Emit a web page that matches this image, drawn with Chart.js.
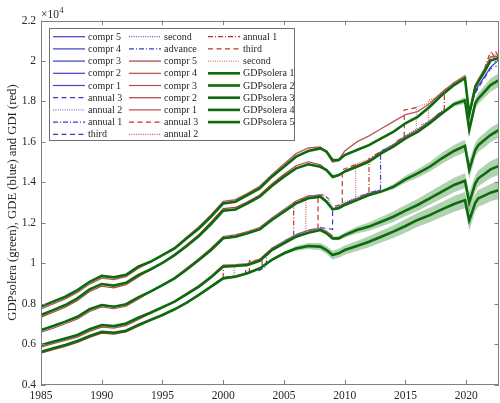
<!DOCTYPE html>
<html>
<head>
<meta charset="utf-8">
<script src="https://cdn.jsdelivr.net/npm/chart.js@4/dist/chart.umd.min.js"></script>
<style>
  html, body { margin: 0; padding: 0; background: #fff; }
  canvas { display: block; }
</style>
</head>
<body>
<canvas id="c" width="500" height="403"></canvas>
<script>
// values in units of 10^4
var years = [1985,1986,1987,1988,1989,1990,1991,1992,1993,1994,1995,1996,1997,1998,1999,2000,2001,2002,2003,2004,
  2005,2006,2007,2008,2008.5,2009,2009.5,2010,2011,2012,2013,2014,2015,2016,2017,2018,2019,2019.9,2020.25,2020.75,
  2021,2021.5,2022,2022.7];

var solera1 = [.785,.810,.834,.867,.908,.937,.930,.943,.983,1.007,1.040,1.073,1.123,1.172,1.230,1.296,1.304,1.337,1.370,1.428,
  1.477,1.527,1.555,1.568,1.552,1.510,1.510,1.535,1.560,1.584,1.617,1.650,1.692,1.724,1.774,1.832,1.881,1.915,1.735,1.873,
  1.898,1.947,2.002,2.016];
var solera2 = [.744,.768,.793,.826,.871,.897,.889,.903,.941,.969,1.002,1.040,1.085,1.134,1.194,1.260,1.266,1.296,1.329,1.382,
  1.428,1.469,1.489,1.477,1.461,1.428,1.436,1.453,1.477,1.502,1.543,1.576,1.617,1.650,1.692,1.741,1.787,1.805,1.660,1.791,
  1.815,1.848,1.881,1.906];
var solera3 = [.669,.689,.711,.735,.772,.793,.785,.797,.831,.859,.892,.925,.969,1.016,1.065,1.123,1.131,1.148,1.167,1.214,
  1.255,1.296,1.321,1.329,1.304,1.266,1.272,1.288,1.312,1.337,1.354,1.378,1.415,1.444,1.477,1.519,1.555,1.580,1.462,1.560,
  1.584,1.609,1.634,1.659];
var solera4 = [.595,.612,.628,.645,.673,.694,.689,.702,.730,.755,.782,.810,.847,.884,.930,.983,.986,.991,1.012,1.065,
  1.098,1.131,1.151,1.164,1.148,1.123,1.123,1.139,1.164,1.181,1.205,1.230,1.260,1.288,1.321,1.354,1.387,1.408,1.300,1.395,
  1.420,1.441,1.464,1.481];
var solera5 = [.562,.579,.595,.615,.640,.661,.656,.666,.694,.719,.744,.772,.805,.843,.884,.925,.933,.950,.974,1.016,
  1.049,1.073,1.085,1.082,1.065,1.040,1.049,1.065,1.085,1.106,1.131,1.156,1.184,1.214,1.238,1.266,1.293,1.312,1.212,1.299,
  1.321,1.334,1.349,1.362];

// half widths of the shaded bands, starting at the given year
var band2From = 2018, band2 = [.006,.012,.016,.035,.024,.027,.030,.033,.035];
var band3From = 2013, band3 = [.006,.012,.017,.021,.024,.027,.030,.031,.045,.034,.034,.035,.036,.037];
var band4From = 2008.5, band4 = [.004,.008,.010,.013,.017,.020,.023,.026,.028,.030,.032,.034,.036,.037,.050,.040,.040,.041,.042,.043];
var band5From = 2004, band5 = [.004,.008,.012,.015,.018,.020,.022,.022,.023,.025,.027,.029,.031,.033,.034,.036,.037,.039,.040,.052,
  .042,.042,.042,.043,.044];

// GDI comprehensive vintages (from 1985 on)
var gdi5 = [.774,.799,.823,.856,.897,.926,.919,.934,.974,1.005,1.040,1.078,1.130,1.180,1.240,1.306,1.314,1.345,1.380,1.438,
  1.490,1.542,1.570,1.575,1.548,1.500,1.510,1.555,1.600,1.630,1.665,1.700,1.735,1.750,1.790,1.845,1.893,1.925,1.735,1.880,
  1.910,1.960,2.020,2.025];
var gdi4 = [.733,.757,.782,.815,.860,.886,.878,.893,.932,.967,1.002,1.045,1.092,1.142,1.204,1.270,1.276,1.304,1.338,1.392,
  1.440,1.482,1.502,1.487,1.462,1.422,1.432,1.458,1.484,1.510,1.552,1.586,1.628,1.660,1.702,1.750];
var gdi3 = [.658,.678,.700,.724,.761,.783,.775,.787,.822,.857,.892,.930,.976,1.024,1.074,1.132,1.140,1.157,1.177,1.224,
  1.266,1.308,1.333,1.336,1.308,1.268,1.278,1.296,1.320,1.345,1.362];
var gdi2 = [.585,.602,.618,.635,.663,.684,.679,.692,.721,.752,.781,.812,.851,.889,.936,.990,.993,.998,1.020,1.073,
  1.107,1.140,1.162,1.172,1.158,1.135];
var gdi1 = [.555,.572,.588,.608,.633,.654,.649,.660,.688,.717,.743,.772,.806,.845,.887,.929,.937,.954,.978];

// GDE comprehensive vintages end (last year), compr 5 departs after the 2020 dip
var gde4End = 2018, gde3End = 2013, gde2End = 2009, gde1End = 2003;
var gde5Tail = [1.850,1.878,1.922,1.968,2.008];

// short vintages: [year, value] with null between pieces
var gdeAnnual3 = [[2008.0,1.176],[2008.5,1.172],[2009.0,1.168],[2009.0,1.262],[2009.5,1.278]];
var gdeAnnual2 = [[2006.8,1.326],[2007.5,1.336],[2008.2,1.340],[2008.6,1.322],[2009.0,1.278]];
var gdeAnnual1 = [[2002.9,0.962],[2003.55,0.984],[2003.55,1.035],[2004.0,1.066]];
var gdeThird = [[2001.1,0.936],[2001.85,0.946],[2001.85,0.993],[2002.15,0.996], null,
  [2020.75,1.842],[2021.0,1.868],[2021.5,1.915],[2022.0,1.962],[2022.5,1.975]];
var gdeSecond = [[2000.4,0.931],[2001.8,0.946], null,
  [2004.0,1.075],[2005.0,1.110],[2006.0,1.143],[2007.0,1.163],[2008.0,1.177], null,
  [2009.0,1.270],[2010.0,1.301],[2011.0,1.325],[2012.0,1.349],[2012.95,1.363], null,
  [2013.4,1.568],[2014.0,1.589],[2015.0,1.630],[2016.0,1.663],[2017.0,1.705],[2018.0,1.754],[2018.2,1.763]];
var gdeAdvance = [[2012.2,1.352],[2012.95,1.360],[2012.95,1.555],[2013.4,1.566], null,
  [2020.5,1.800],[2020.75,1.848],[2021.0,1.872]];

var gdiAnnual3 = [[2002.15,0.952],[2002.15,1.012],[2003.2,1.017],[2003.2,0.972], null,
  [2007.1,1.165],[2007.8,1.172],[2007.8,1.338],[2008.3,1.338],[2008.7,1.316]];
var gdiAnnual2 = [[2000.2,0.931],[2000.9,0.936],[2000.9,0.990],[2001.85,0.993], null,
  [2006.1,1.145],[2006.8,1.158],[2006.8,1.325],[2007.8,1.338], null,
  [2016.3,1.685],[2016.9,1.700],[2016.9,1.807],[2017.5,1.818],[2018.2,1.852]];
var gdiAnnual1 = [[1999.3,0.900],[2000.0,0.929],[2000.0,0.987],[2000.9,0.990], null,
  [2005.1,1.112],[2005.8,1.135],[2005.8,1.300],[2006.8,1.322], null,
  [2011.3,1.332],[2012.0,1.348],[2012.0,1.518],[2012.95,1.552], null,
  [2017.5,1.728],[2018.2,1.762],[2018.2,1.857],[2018.6,1.868], null,
  [2021.5,1.962],[2021.9,2.030],[2022.1,2.046],[2022.3,2.018],[2022.45,2.044],[2022.7,2.020]];
var gdiThird = [[2009.2,1.282],[2009.8,1.293],[2009.8,1.462],[2010.9,1.488], null,
  [2014.3,1.604],[2014.9,1.626],[2014.9,1.758],[2016.0,1.771]];
var gdiSecond = [[2010.3,1.305],[2010.9,1.321],[2010.9,1.490],[2012.0,1.516], null,
  [2015.3,1.643],[2015.9,1.660],[2015.9,1.775],[2016.9,1.790],[2018.0,1.845],[2019.0,1.893],[2019.9,1.932]];

// ---- helpers
function byYear(vals) {
  var out = [];
  for (var i = 0; i < vals.length; i++) out.push({x: years[i], y: vals[i]});
  return out;
}
function until(vals, last) {
  var out = [];
  for (var i = 0; i < years.length && years[i] <= last; i++) out.push({x: years[i], y: vals[i]});
  return out;
}
function pieces(list) {
  var out = [], prev = 0;
  list.forEach(function(p) {
    if (p === null) out.push({x: prev, y: null});
    else { out.push({x: p[0], y: p[1]}); prev = p[0]; }
  });
  return out;
}
function band(vals, from, w, sign) {
  var out = [], k = years.indexOf(from);
  for (var j = 0; j < w.length; j++) out.push({x: years[k + j], y: vals[k + j] + sign * w[j]});
  return out;
}

var BLUE = '#3c3cc8', RED = '#b33a3a', REDV = '#c03232', GREEN = '#0d6b0d';
var DASH = [5, 3.5], DOT = [1, 1.3], DASHDOT = [5, 2, 1, 2];
var SERIF = '"Liberation Serif", "Times New Roman", serif';

function ln(label, data, color, width, dash, order) {
  return {label: label, data: data, borderColor: color, borderWidth: width, borderDash: dash || [],
    pointRadius: 0, fill: false, tension: 0, order: order, spanGaps: false};
}

var gde5 = byYear(solera1.slice(0, 39).concat(gde5Tail));

var datasets = [
  ln('compr 5', gde5, BLUE, 1.2, null, 1),
  ln('compr 4', until(solera2, gde4End), BLUE, 1.2, null, 1),
  ln('compr 3', until(solera3, gde3End), '#6e6ed2', 1.6, null, 1),
  ln('compr 2', until(solera4, gde2End), BLUE, 1.2, null, 1),
  ln('compr 1', until(solera5, gde1End), '#4646c8', 1.2, null, 1),
  ln('annual 3', pieces(gdeAnnual3), BLUE, 1.2, DASH, 1),
  ln('annual 2', pieces(gdeAnnual2), '#7c7cd8', 1.2, DOT, 1),
  ln('annual 1', pieces(gdeAnnual1), BLUE, 1.2, DASHDOT, 1),
  ln('third', pieces(gdeThird), BLUE, 1.2, DASH, 1),
  ln('second', pieces(gdeSecond), '#5a5ad0', 1.2, DOT, 1),
  ln('advance', pieces(gdeAdvance), BLUE, 1.2, DASHDOT, 1),
  ln('compr 5', byYear(gdi5), '#b85a5a', 1.4, null, 2),
  ln('compr 4', byYear(gdi4), RED, 1.1, null, 2),
  ln('compr 3', byYear(gdi3), '#b04848', 1.1, null, 2),
  ln('compr 2', byYear(gdi2), '#b85a5a', 1.4, null, 2),
  ln('compr 1', byYear(gdi1), RED, 1.1, null, 2),
  ln('annual 3', pieces(gdiAnnual3), REDV, 1.2, DASH, 2),
  ln('annual 2', pieces(gdiAnnual2), '#c86060', 1.2, DOT, 2),
  ln('annual 1', pieces(gdiAnnual1), REDV, 1.2, DASHDOT, 2),
  ln('third', pieces(gdiThird), REDV, 1.2, DASH, 2),
  ln('second', pieces(gdiSecond), '#d07a7a', 1.2, DOT, 2),
  ln('GDPsolera 1', byYear(solera1), GREEN, 2.6, null, 0),
  ln('GDPsolera 2', byYear(solera2), GREEN, 2.6, null, 0),
  ln('GDPsolera 3', byYear(solera3), GREEN, 2.6, null, 0),
  ln('GDPsolera 4', byYear(solera4), GREEN, 2.6, null, 0),
  ln('GDPsolera 5', byYear(solera5), GREEN, 2.6, null, 0)
];

var BANDCOL = 'rgba(40,130,40,0.36)';
[[solera2, band2From, band2], [solera3, band3From, band3], [solera4, band4From, band4], [solera5, band5From, band5]]
  .forEach(function(b) {
    datasets.push({data: band(b[0], b[1], b[2], 1), borderWidth: 0, pointRadius: 0, tension: 0,
      backgroundColor: BANDCOL, fill: '+1', order: 3});
    datasets.push({data: band(b[0], b[1], b[2], -1), borderWidth: 0, pointRadius: 0, tension: 0,
      fill: false, order: 3});
  });

// box, inward ticks and the exponent
var frame = {
  id: 'frame',
  afterDatasetsDraw: function(chart) {
    var ctx = chart.ctx, a = chart.chartArea, sx = chart.scales.x, sy = chart.scales.y;
    ctx.save();
    ctx.strokeStyle = '#808080';
    ctx.lineWidth = 1;
    ctx.strokeRect(Math.round(a.left) + 0.5, Math.round(a.top) + 0.5,
      Math.round(a.right - a.left) - 1, Math.round(a.bottom - a.top) - 1);
    ctx.beginPath();
    sx.ticks.forEach(function(t) {
      var p = Math.round(sx.getPixelForValue(t.value)) + 0.5;
      ctx.moveTo(p, a.bottom); ctx.lineTo(p, a.bottom - 4.5);
      ctx.moveTo(p, a.top); ctx.lineTo(p, a.top + 4.5);
    });
    sy.ticks.forEach(function(t) {
      var p = Math.round(sy.getPixelForValue(t.value)) + 0.5;
      ctx.moveTo(a.left, p); ctx.lineTo(a.left + 4.5, p);
      ctx.moveTo(a.right, p); ctx.lineTo(a.right - 4.5, p);
    });
    ctx.stroke();
    ctx.fillStyle = '#262626';
    ctx.textBaseline = 'alphabetic';
    ctx.font = '11.5px ' + SERIF;
    ctx.fillText('\u00d710', 41, 18);
    ctx.font = '8px ' + SERIF;
    ctx.fillText('4', 59.5, 13);
    ctx.restore();
  }
};

// legend in three columns, filled column by column
var legendBox = {
  id: 'legendBox',
  afterDraw: function(chart) {
    var ctx = chart.ctx;
    var items = chart.data.datasets.filter(function(d) { return d.label; });
    var cols = [53, 129, 208];
    ctx.save();
    ctx.fillStyle = '#fff';
    ctx.fillRect(49.5, 28.5, 245, 112);
    ctx.strokeStyle = '#6e6e6e';
    ctx.lineWidth = 1;
    ctx.strokeRect(49.5, 28.5, 245, 112);
    ctx.font = '10px ' + SERIF;
    ctx.textBaseline = 'middle';
    items.forEach(function(d, i) {
      var col = Math.floor(i / 9), row = i % 9;
      var y = 36.7 + row * 12.2, x0 = cols[col];
      ctx.strokeStyle = d.borderColor;
      ctx.lineWidth = d.borderWidth;
      ctx.setLineDash(d.borderDash || []);
      ctx.beginPath();
      ctx.moveTo(x0, y); ctx.lineTo(x0 + 32, y);
      ctx.stroke();
      ctx.setLineDash([]);
      ctx.fillStyle = '#262626';
      ctx.fillText(d.label, x0 + 35, y + 0.5);
    });
    ctx.restore();
  }
};

new Chart(document.getElementById('c'), {
  type: 'line',
  data: {datasets: datasets},
  plugins: [frame, legendBox],
  options: {
    responsive: false,
    animation: false,
    devicePixelRatio: 1,
    layout: {padding: {top: 20.6, right: 1, left: 0, bottom: 0}},
    plugins: {legend: {display: false}, tooltip: {enabled: false}},
    scales: {
      x: {
        type: 'linear', min: 1985, max: 2022.7,
        grid: {display: false, drawTicks: false},
        border: {display: false},
        ticks: {stepSize: 5, includeBounds: false, autoSkip: false, maxRotation: 0, padding: 5,
          color: '#262626', font: {family: SERIF, size: 11.5},
          callback: function(v) { return String(v); }},
        afterFit: function(s) { s.height = 18.5; }
      },
      y: {
        type: 'linear', min: 0.4, max: 2.2,
        grid: {display: false, drawTicks: false},
        border: {display: false},
        ticks: {stepSize: 0.2, includeBounds: false, autoSkip: false, padding: 5,
          color: '#262626', font: {family: SERIF, size: 11.5},
          callback: function(v) { return String(Number(v.toFixed(1))); }},
        title: {display: true, text: 'GDPsolera (green), GDE (blue) and GDI (red)',
          color: '#262626', font: {family: SERIF, size: 12.7}, padding: {top: 5, bottom: 0}},
        afterFit: function(s) { s.width = 41; }
      }
    }
  }
});
</script>
</body>
</html>
